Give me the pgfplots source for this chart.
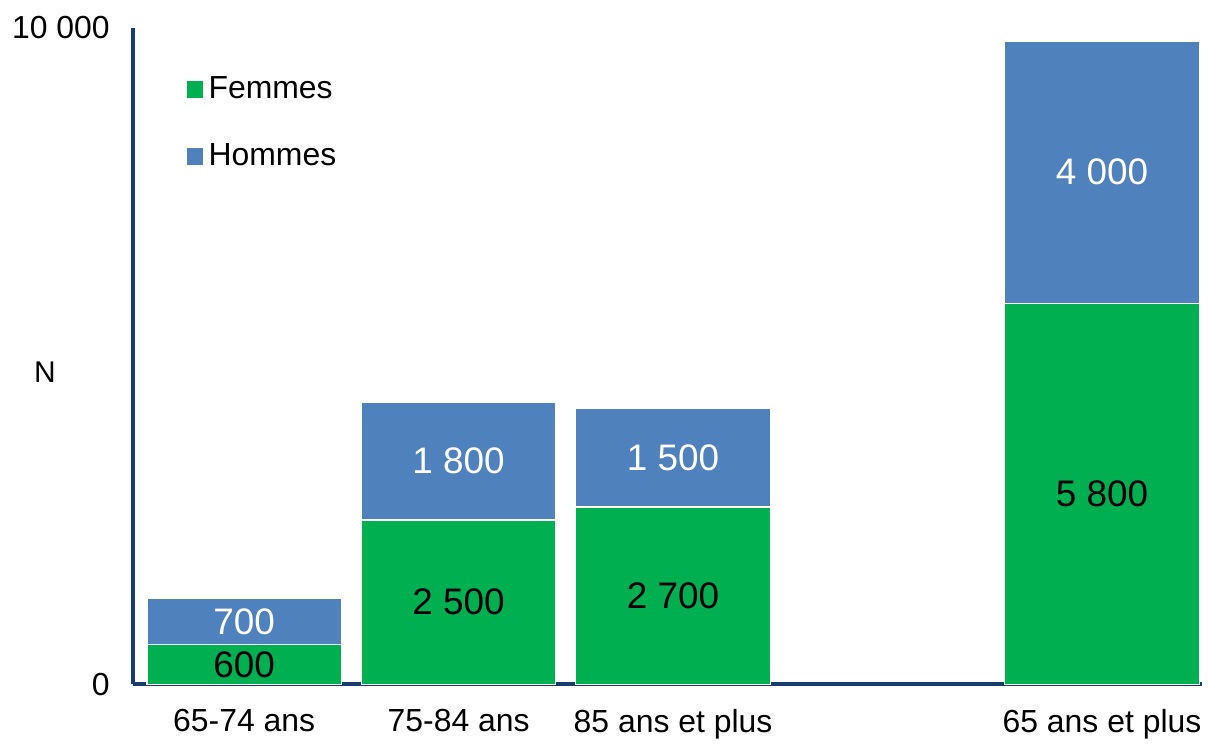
\documentclass[border=0pt]{standalone}
\usepackage{pgfplots}
\pgfplotsset{compat=1.18}
\usepackage{fontspec}
\setmainfont{Liberation Sans}

\definecolor{femmes}{HTML}{00B050}
\definecolor{hommes}{HTML}{4F81BD}
\definecolor{axisnavy}{HTML}{173C6E}

\pgfplotsset{
  base/.style={
    width=536pt, height=329pt, scale only axis,
    xmin=-0.52, xmax=4.465, ymin=0, ymax=10000,
    scaled y ticks=false,
  },
}

\begin{document}
\begin{tikzpicture}
\begin{axis}[
  base,
  ybar stacked,
  bar width=97.5pt,
  axis lines=left,
  axis line style={-, draw=axisnavy, line width=2pt},
  xtick={0,1,2,4},
  xticklabels={65-74 ans,75-84 ans,85 ans et plus,65 ans et plus},
  ytick={0,10000},
  yticklabels={0,10 000},
  major tick length=0pt,
  xticklabel style={font=\fontsize{16pt}{19pt}\selectfont, yshift=-9pt},
  yticklabel style={font=\fontsize{16pt}{19pt}\selectfont, xshift=-8pt},
  ylabel={N},
  ylabel style={rotate=-90, at={(axis description cs:0,0.476)}, anchor=center,
    xshift=-44pt, font=\fontsize{15pt}{18pt}\selectfont},
  legend style={draw=none, fill=none, at={(0.049,0.932)}, anchor=north west,
    font=\fontsize{16pt}{19pt}\selectfont, row sep=17pt, inner sep=0pt},
  legend cell align=left,
  legend image code/.code={\fill[#1] (0pt,-4.5pt) rectangle (9pt,4.5pt);},
]
\addplot[fill=femmes, draw=white, line width=0.6pt] coordinates {
  (0,600) (1,2500) (2,2700) (4,5800)
};
\addlegendentry{Femmes}
\addplot[fill=hommes, draw=white, line width=0.6pt] coordinates {
  (0,700) (1,1800) (2,1500) (4,4000)
};
\addlegendentry{Hommes}
\end{axis}

% labels, centred in each segment
\begin{axis}[base, hide axis, point meta=explicit symbolic]
\addplot[only marks, mark=none, nodes near coords,
  nodes near coords style={anchor=center, text=black, font=\fontsize{18.5pt}{21pt}\selectfont}]
  coordinates {(0,300)[600] (1,1250)[2 500] (2,1350)[2 700] (4,2900)[5 800]};
\addplot[only marks, mark=none, nodes near coords,
  nodes near coords style={anchor=center, text=white, font=\fontsize{18.5pt}{21pt}\selectfont}]
  coordinates {(0,950)[700] (1,3400)[1 800] (2,3450)[1 500] (4,7800)[4 000]};
\end{axis}

\path ([xshift=-66.5pt,yshift=-27.5pt]current axis.south west)
  rectangle ([xshift=1.5pt,yshift=14pt]current axis.north east);
\end{tikzpicture}
\end{document}
